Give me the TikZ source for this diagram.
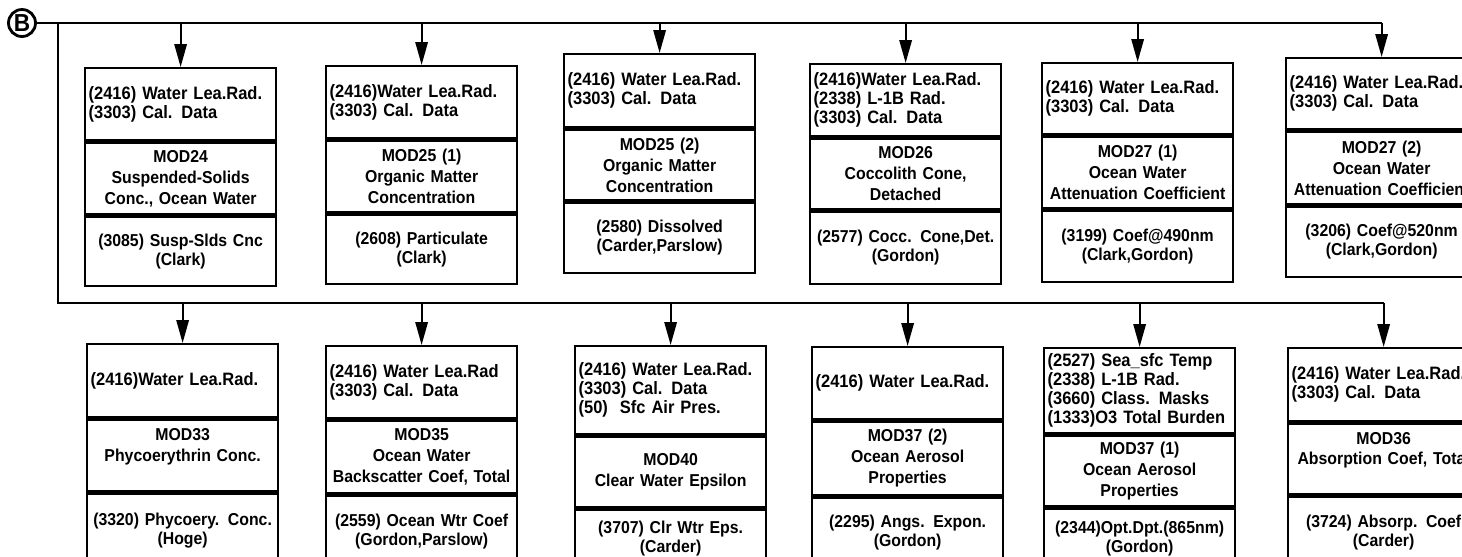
\documentclass[tikz,border=0pt]{standalone}
\usepackage{fontspec}
\setmainfont{Liberation Sans}[FakeStretch=0.92]
\usetikzlibrary{arrows.meta,positioning}
\tikzset{
  inbox/.style={draw=black, line width=1.3pt, anchor=north west, align=left,
                text width=3.679cm, inner xsep=2pt, inner ysep=1pt,
                font=\fontsize{10.2}{10.8}\selectfont\bfseries},
  modbox/.style={draw=black, line width=1.3pt, align=center,
                 text width=3.679cm, inner xsep=2pt, inner ysep=1pt,
                 font=\fontsize{9.8}{11.9}\selectfont\bfseries},
  outbox/.style={draw=black, line width=1.3pt, align=center,
                 text width=3.679cm, inner xsep=2pt, inner ysep=1pt,
                 font=\fontsize{9.8}{10.8}\selectfont\bfseries},
  conn/.style={circle, draw=black, line width=1.6pt, inner sep=0pt,
               minimum size=0.54cm, font=\fontsize{14}{14}\selectfont\bfseries},
  bus/.style={line width=1.1pt, draw=black},
  feed/.style={-{Triangle[length=13pt,width=7pt]}, line width=1.1pt, draw=black}
}

\begin{document}
\begin{tikzpicture}[x=0.02cm,y=-0.02cm]
        \useasboundingbox (0,0) rectangle (1462,556);
        \clip (0,0) rectangle (1462,556);

        % off-page connector and bus taps
        \node[conn] (B) at (22,23) {B};
        \coordinate (busT) at (58,23);
        \coordinate (busB) at (58,303);

        % module boxes: inputs / module / output
        \foreach \n/\r/\x/\ya/\yb/\yc/\yd/\tin/\tmod/\tout in {
          t1/T/84/67/139/211/280/{(2416) Water Lea.Rad.\\(3303) Cal. Data}/{MOD24\\Suspended-Solids\\Conc., Ocean Water}/{(3085) Susp-Slds Cnc\\(Clark)},
          t2/T/325/65/137/209/278/{(2416)Water Lea.Rad.\\(3303) Cal. Data}/{MOD25 (1)\\Organic Matter\\Concentration}/{(2608) Particulate\\(Clark)},
          t3/T/563/53/126/197/267/{(2416) Water Lea.Rad.\\(3303) Cal. Data}/{MOD25 (2)\\Organic Matter\\Concentration}/{(2580) Dissolved\\(Carder,Parslow)},
          t4/T/809/63/135/206/278/{(2416)Water Lea.Rad.\\(2338) L-1B Rad.\\(3303) Cal. Data}/{MOD26\\Coccolith Cone,\\Detached}/{(2577) Cocc. Cone,Det.\\(Gordon)},
          t5/T/1041/62/133/205/276/{(2416) Water Lea.Rad.\\(3303) Cal. Data}/{MOD27 (1)\\Ocean Water\\Attenuation Coefficient}/{(3199) Coef@490nm\\(Clark,Gordon)},
          t6/T/1285/57/128/201/271/{(2416) Water Lea.Rad.\\(3303) Cal. Data}/{MOD27 (2)\\Ocean Water\\Attenuation Coefficient}/{(3206) Coef@520nm\\(Clark,Gordon)},
          b1/B/86/343/416/488/562/{(2416)Water Lea.Rad.}/{MOD33\\Phycoerythrin Conc.\\\mbox{}}/{(3320) Phycoery. Conc.\\(Hoge)},
          b2/B/325/345/417/490/562/{(2416) Water Lea.Rad\\(3303) Cal. Data}/{MOD35\\Ocean Water\\Backscatter Coef, Total}/{(2559) Ocean Wtr Coef\\(Gordon,Parslow)},
          b3/B/574/345/433/504/562/{(2416) Water Lea.Rad.\\(3303) Cal. Data\\(50)\ \ Sfc Air Pres.}/{MOD40\\Clear Water Epsilon}/{(3707) Clr Wtr Eps.\\(Carder)},
          b4/B/811/346/418/492/562/{(2416) Water Lea.Rad.}/{MOD37 (2)\\Ocean Aerosol\\Properties}/{(2295) Angs. Expon.\\(Gordon)},
          b5/B/1043/347/432/503/562/{(2527) Sea\_sfc Temp\\(2338) L-1B Rad.\\(3660) Class. Masks\\(1333)O3 Total Burden}/{MOD37 (1)\\Ocean Aerosol\\Properties}/{(2344)Opt.Dpt.(865nm)\\(Gordon)},
          b6/B/1287/347/420/491/562/{(2416) Water Lea.Rad.\\(3303) Cal. Data}/{MOD36\\Absorption Coef, Total\\\mbox{}}/{(3724) Absorp. Coef\\(Carder)}} {
          \pgfmathsetmacro{\hin}{(\yb-\ya)*0.02}
          \pgfmathsetmacro{\hmod}{(\yc-\yb)*0.02}
          \pgfmathsetmacro{\hout}{(\yd-\yc)*0.02}
          \node[inbox, minimum height=\hin cm] (\n-in) at (\x,\ya) {\tin};
          \node[modbox, minimum height=\hmod cm, below=0pt of \n-in] (\n-mod) {\tmod};
          \node[outbox, minimum height=\hout cm, below=0pt of \n-mod] (\n-out) {\tout};
          \draw[feed] (\n-in.north |- bus\r) -- (\n-in.north);
        }

        % buses
        \draw[bus] (B.east) -- (t6-in.north |- busT);
        \draw[bus] (busT) -- (busB) -- (b6-in.north |- busB);
      \end{tikzpicture}
\end{document}
